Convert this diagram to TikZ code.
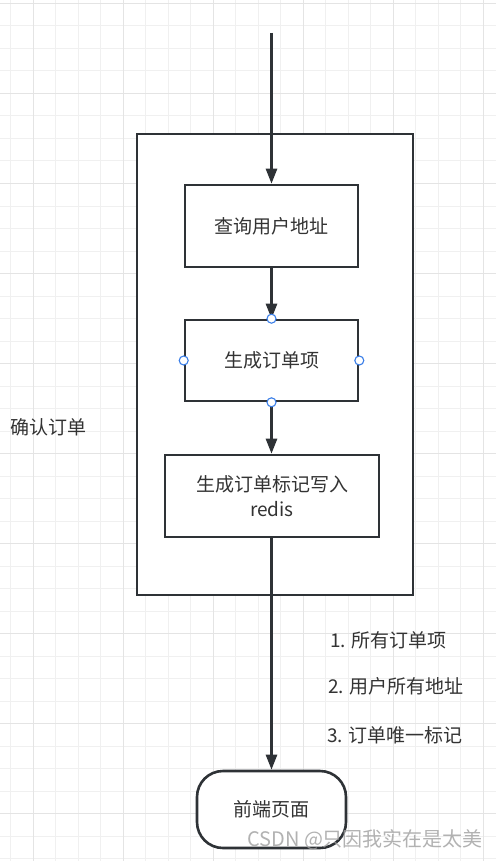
\documentclass[tikz,border=0pt]{standalone}
\usepackage{fontspec}
\setmainfont{Noto Sans CJK SC}
\usetikzlibrary{arrows.meta}
\definecolor{linegray}{HTML}{2E3236}
\definecolor{textgray}{HTML}{333333}
\definecolor{gridminor}{HTML}{F0F0F0}
\definecolor{gridmajor}{HTML}{E4E4E4}
\definecolor{handleblue}{HTML}{3A7EE8}
\newcommand{\stepnode}[3]{
	\node[draw=linegray, line width=2.6pt, fill=white, rectangle, minimum width=#1, minimum height=#2, text=textgray, align=center, font=\fontsize{19}{25}\selectfont] (#3)
}
\newcommand{\handle}[1]{
	\draw[handleblue, fill=white, line width=1.1pt] (#1) circle (4.5pt);
}

\begin{document}
\begin{tikzpicture}[x=1pt, y=-1pt, flow/.style={-{Triangle[length=15pt,width=11pt]}, linegray, line width=2.6pt}, note/.style={anchor=west, inner sep=0, text=textgray, font=\fontsize{19}{23}\selectfont}]
		\useasboundingbox (0,0) rectangle (496,861);
		\fill[white] (0,0) rectangle (496,861);
		% background grid
		\foreach \i in {0,...,21} \draw[gridminor, line width=1pt] (10.5+22.5*\i,0) -- (10.5+22.5*\i,861);
		\foreach \i in {0,...,38} \draw[gridminor, line width=1pt] (0,3.5+22.5*\i) -- (496,3.5+22.5*\i);
		\foreach \i in {0,...,5} \draw[gridmajor, line width=1pt] (33+90*\i,0) -- (33+90*\i,861);
		\foreach \i in {0,...,9} \draw[gridmajor, line width=1pt] (0,3.5+90*\i) -- (496,3.5+90*\i);

		\node[draw=linegray, line width=2.6pt, fill=white, minimum width=276, minimum height=461] (confirm) at (275, 364.5) {};

		\stepnode{173}{82}{address} at (271.5, 226) {查询用户地址};
		\stepnode{173}{81}{items} at (271.5, 360.5) {生成订单项};
		\stepnode{214}{82}{redismark} at (272, 496) {生成订单标记写入\\redis};

		\node[draw=linegray, line width=2.6pt, fill=white, rounded corners=26pt, minimum width=149, minimum height=77, text=textgray, font=\fontsize{19}{23}\selectfont] (front) at (271.5, 809.5) {前端页面};

		\coordinate (start) at (271.5, 33);
		\draw[flow] (start) -- (address.north);
		\draw[flow] (address.south) -- (items.north);
		\draw[flow] (items.south) -- (items.south |- redismark.north);
		\draw[flow] (redismark.south -| front.north) -- (front.north);

		\handle{items.north}
		\handle{items.south}
		\handle{items.west}
		\handle{items.east}

		\node[note] (title) at (10, 427) {确认订单};
		\node[note] (note1) at (330, 640) {1. 所有订单项};
		\node[note] (note2) at (328, 686) {2. 用户所有地址};
		\node[note] (note3) at (327, 735) {3. 订单唯一标记};

		\node[anchor=west, inner sep=0, text=gray!75, opacity=0.8, font=\fontsize{20}{24}\selectfont] (watermark) at (247, 840) {CSDN @只因我实在是太美};
	\end{tikzpicture}
\end{document}
